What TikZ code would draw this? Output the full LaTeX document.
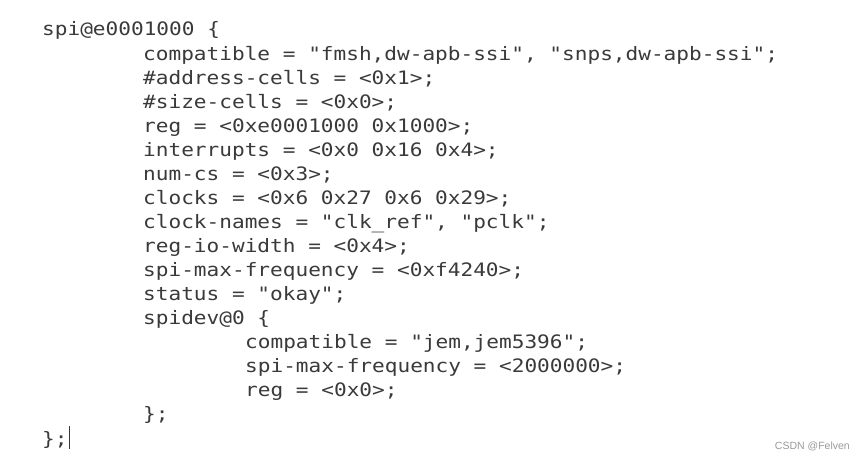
\documentclass[tikz,border=0pt]{standalone}
\usepackage{fontspec}
\usepackage{xcolor}
\newfontfamily\codefont[FakeStretch=1.14,WordSpace={1,0,0}]{DejaVu Sans Mono}
\newfontfamily\markfont{Liberation Sans}
\definecolor{codegray}{HTML}{3A3A3A}
\definecolor{markgray}{HTML}{9A9A9A}
\usetikzlibrary{arrows.meta}

\begin{document}
\begin{tikzpicture}[x=1pt, y=-1pt,
		codeline/.style={anchor=base west, inner sep=0pt, text=codegray, font=\codefont\fontsize{18.5}{20}\selectfont}]
			\useasboundingbox[fill=white] (0, 0) rectangle (865, 460);
			\node[codeline] (l0) at (42, 36) {spi@e0001000 \{};
			\node[codeline] (l1) at (143, 60.06) {compatible = "fmsh,dw-apb-ssi", "snps,dw-apb-ssi";};
			\node[codeline] (l2) at (143, 84.12) {\#address-cells = <0x1>;};
			\node[codeline] (l3) at (143, 108.18) {\#size-cells = <0x0>;};
			\node[codeline] (l4) at (143, 132.24) {reg = <0xe0001000 0x1000>;};
			\node[codeline] (l5) at (143, 156.3) {interrupts = <0x0 0x16 0x4>;};
			\node[codeline] (l6) at (143, 180.36) {num-cs = <0x3>;};
			\node[codeline] (l7) at (143, 204.42) {clocks = <0x6 0x27 0x6 0x29>;};
			\node[codeline] (l8) at (143, 228.48) {clock-names = "clk\_ref", "pclk";};
			\node[codeline] (l9) at (143, 252.54) {reg-io-width = <0x4>;};
			\node[codeline] (l10) at (143, 276.6) {spi-max-frequency = <0xf4240>;};
			\node[codeline] (l11) at (143, 300.66) {status = "okay";};
			\node[codeline] (l12) at (143, 324.72) {spidev@0 \{};
			\node[codeline] (l13) at (245, 348.78) {compatible = "jem,jem5396";};
			\node[codeline] (l14) at (245, 372.84) {spi-max-frequency = <2000000>;};
			\node[codeline] (l15) at (245, 396.9) {reg = <0x0>;};
			\node[codeline] (l16) at (143, 420.96) {\};};
			\node[codeline] (l17) at (42, 445.02) {\};};
			% text cursor
			\draw[codegray, line width=1pt] (69, 426) -- (69, 449);
			\node[anchor=base east, inner sep=0pt, text=markgray, font=\markfont\fontsize{10.5}{12}\selectfont] (mark) at (850, 449) {CSDN @Felven};
		\end{tikzpicture}
\end{document}
